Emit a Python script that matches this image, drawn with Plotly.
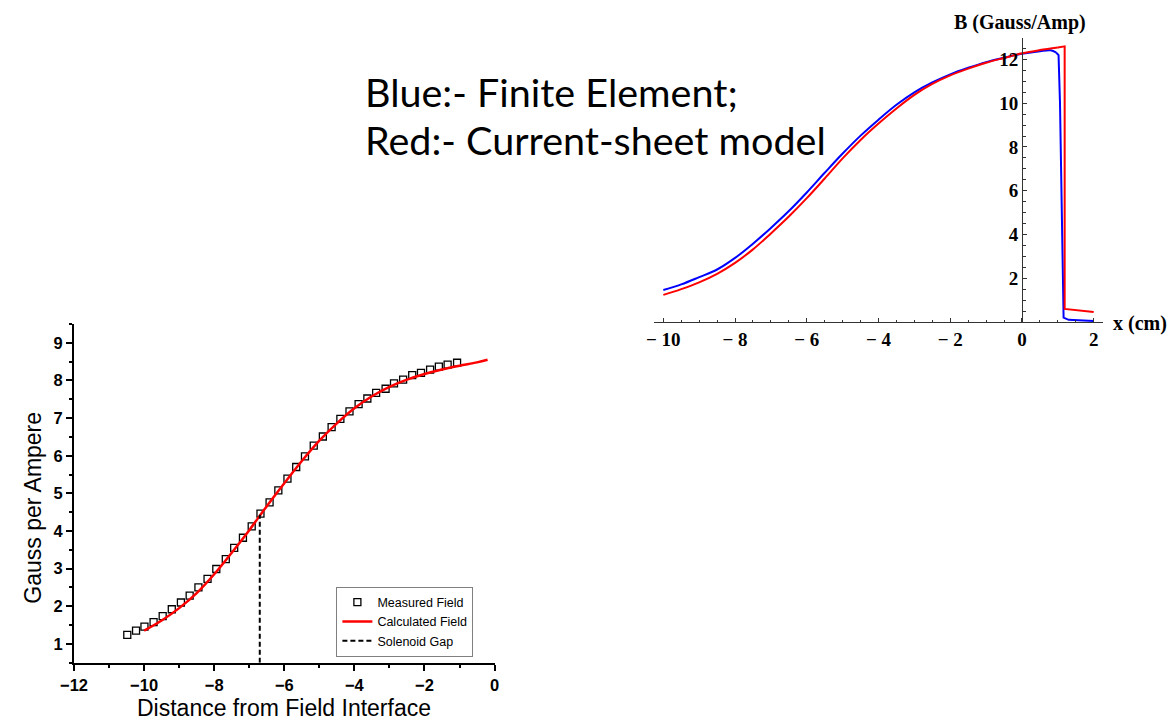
import plotly.graph_objects as go

# ---- Measured / calculated field along the solenoid axis (left panel) ----
meas_x = [-10.48, -10.23, -9.99, -9.73, -9.47, -9.21, -8.95, -8.70, -8.45, -8.19,
          -7.94, -7.67, -7.43, -7.18, -6.93, -6.68, -6.42, -6.17, -5.91, -5.66,
          -5.41, -5.16, -4.90, -4.65, -4.40, -4.14, -3.88, -3.63, -3.38, -3.11,
          -2.87, -2.61, -2.35, -2.10, -1.84, -1.59, -1.34, -1.07]
meas_b = [1.24, 1.35, 1.46, 1.58, 1.74, 1.92, 2.10, 2.28, 2.50, 2.73,
          2.99, 3.25, 3.55, 3.82, 4.12, 4.46, 4.76, 5.08, 5.39, 5.70,
          5.98, 6.27, 6.51, 6.76, 6.98, 7.18, 7.37, 7.52, 7.67, 7.78,
          7.92, 8.02, 8.14, 8.20, 8.29, 8.37, 8.42, 8.47]

calc_x = [-10, -9.5, -9, -8.5, -8, -7.5, -7, -6.5, -6, -5.5, -5,
          -4.5, -4, -3.5, -3, -2.5, -2, -1.5, -1, -0.5, -0.2]
calc_b = [1.35, 1.62, 1.95, 2.35, 2.85, 3.42, 4.02, 4.66, 5.27, 5.86, 6.40,
          6.86, 7.26, 7.58, 7.83, 8.02, 8.17, 8.29, 8.39, 8.48, 8.55]

gap_x = -6.7
gap_b = 4.43

left_xticks = [-12, -10, -8, -6, -4, -2, 0]
left_yticks = [1, 2, 3, 4, 5, 6, 7, 8, 9]

# ---- Finite element vs current-sheet model (right panel) ----
# smooth field inside the solenoid, then the sharp fall-off at the iron face
fe_x = [-10, -9.5, -9, -8.5, -8, -7.5, -7, -6.5, -6, -5.5, -5,
        -4.5, -4, -3.5, -3, -2.5, -2, -1.5, -1, -0.5, 0,
        0.5, 0.8, 0.95, 1.02, 1.06, 1.1, 1.13, 1.16, 1.3, 1.6, 2.0]
fe_b = [1.46, 1.72, 2.05, 2.40, 2.93, 3.58, 4.30, 5.07, 5.92, 6.82, 7.70,
        8.52, 9.25, 9.93, 10.50, 10.95, 11.32, 11.62, 11.88, 12.08, 12.26,
        12.38, 12.42, 12.32, 12.20, 10.0, 6.0, 3.5, 0.20, 0.10, 0.07, 0.05]
fe_edge = 23          # index where the fall-off begins

cs_x = [-10, -9.5, -9, -8.5, -8, -7.5, -7, -6.5, -6, -5.5, -5,
        -4.5, -4, -3.5, -3, -2.5, -2, -1.5, -1, -0.5, 0,
        0.5, 1.0, 1.19, 1.19, 1.5, 2.0]
cs_b = [1.24, 1.50, 1.81, 2.20, 2.70, 3.32, 4.05, 4.82, 5.66, 6.56, 7.48,
        8.32, 9.07, 9.76, 10.38, 10.88, 11.27, 11.58, 11.85, 12.07, 12.28,
        12.43, 12.55, 12.60, 0.60, 0.55, 0.46]
cs_edge = 22

right_xticks = [-10, -8, -6, -4, -2, 0, 2]
right_xlabels = ["\u2212 10", "\u2212 8", "\u2212 6", "\u2212 4", "\u2212 2", "0", "2"]
right_yticks = [2, 4, 6, 8, 10, 12]

W, H = 1173, 723


def px(x):
    return x / W


def py(y):
    return 1 - y / H


sans = "Liberation Sans, Arial, sans-serif"
serif = "Liberation Serif, Times New Roman, serif"

fig = go.Figure()

fig.add_trace(go.Scatter(
    x=meas_x, y=meas_b, mode="markers", name="Measured Field",
    marker=dict(symbol="square-open", size=7, color="black", line=dict(width=1.3, color="black")),
    xaxis="x", yaxis="y"))
fig.add_trace(go.Scatter(
    x=calc_x, y=calc_b, mode="lines", name="Calculated Field", line_shape="spline",
    line=dict(color="#ff0000", width=2.5), xaxis="x", yaxis="y"))
fig.add_trace(go.Scatter(
    x=[gap_x, gap_x], y=[0.5, gap_b], mode="lines", name="Solenoid Gap",
    line=dict(color="black", width=2, dash="5px,3px"), xaxis="x", yaxis="y"))


def add_field(xs, bs, edge, color, name):
    # smooth interior part drawn as a spline, the edge step drawn straight
    fig.add_trace(go.Scatter(
        x=xs[:edge + 1], y=bs[:edge + 1], mode="lines", name=name, showlegend=False,
        line_shape="spline", line=dict(color=color, width=2), xaxis="x2", yaxis="y2"))
    fig.add_trace(go.Scatter(
        x=xs[edge:], y=bs[edge:], mode="lines", name=name, showlegend=False,
        line=dict(color=color, width=2), xaxis="x2", yaxis="y2"))


add_field(fe_x, fe_b, fe_edge, "#0000ff", "Finite Element")
add_field(cs_x, cs_b, cs_edge, "#ff0000", "Current-sheet model")

left_tickfont = dict(family=sans, size=16.5, color="black", weight="bold")
right_tickfont = dict(family=serif, size=19, color="black", weight="bold")

fig.update_layout(
    width=W, height=H,
    margin=dict(l=0, r=0, t=0, b=0),
    paper_bgcolor="white", plot_bgcolor="rgba(0,0,0,0)",
    xaxis=dict(
        domain=[px(61), px(488.5)], anchor="y", range=[-12, 0],
        tickvals=left_xticks, ticks="outside", ticklen=6, tickwidth=2, tickcolor="black",
        minor=dict(dtick=1, tick0=0, ticks="outside", ticklen=3, tickwidth=2, tickcolor="black"),
        showline=True, linecolor="black", linewidth=2, showgrid=False, zeroline=False,
        tickfont=left_tickfont),
    yaxis=dict(
        domain=[py(662.7), py(324)], anchor="x", range=[0.5, 9.5],
        tickvals=left_yticks, ticks="outside", ticklen=6, tickwidth=2, tickcolor="black",
        minor=dict(dtick=0.5, tick0=0, ticks="outside", ticklen=3, tickwidth=2, tickcolor="black"),
        showline=True, linecolor="black", linewidth=2, showgrid=False, zeroline=False,
        tickfont=left_tickfont),
    xaxis2=dict(
        domain=[px(650.9), px(1106.6)], anchor="y2", range=[-10.25, 2.25],
        tickvals=right_xticks, ticktext=right_xlabels,
        ticks="inside", ticklen=4, tickwidth=1, tickcolor="#333",
        minor=dict(dtick=0.5, tick0=0, ticks="inside", ticklen=2.5, tickwidth=1, tickcolor="#333"),
        showline=True, linecolor="#333", linewidth=1, showgrid=False, zeroline=False,
        tickfont=right_tickfont),
    yaxis2=dict(
        domain=[py(322), py(37.6)], anchor="free", position=px(1024.6), range=[0, 13],
        tickvals=right_yticks, ticks="inside", ticklen=4, tickwidth=1, tickcolor="#333",
        minor=dict(dtick=0.5, tick0=0, ticks="inside", ticklen=2.5, tickwidth=1, tickcolor="#333"),
        showline=True, linecolor="#333", linewidth=1, showgrid=False, zeroline=False,
        tickfont=right_tickfont),
    legend=dict(
        x=px(327.7), y=py(621.5), xanchor="left", yanchor="middle",
        bgcolor="white", bordercolor="#808080", borderwidth=1,
        font=dict(family=sans, size=12.5, color="black"),
        tracegroupgap=0, itemwidth=30),
    showlegend=True,
)

annotations = [
    dict(text="Gauss per Ampere", x=px(19), y=py(508), textangle=-90,
         font=dict(family=sans, size=23, color="black")),
    dict(text="Distance from Field Interface", x=px(274.5), y=0, yanchor="bottom",
         font=dict(family=sans, size=23, color="black")),
    dict(text="B (Gauss/Amp)", x=px(1023), y=py(22),
         font=dict(family=serif, size=20, color="black", weight="bold")),
    dict(text="x (cm)", x=px(1115), y=py(323), xanchor="left",
         font=dict(family=serif, size=20, color="black", weight="bold")),
    dict(text="Blue:- Finite Element;", x=px(355), y=py(91), xanchor="left",
         font=dict(family="Lato, sans-serif", size=39.5, color="black")),
    dict(text="Red:- Current-sheet model", x=px(355), y=py(139), xanchor="left",
         font=dict(family="Lato, sans-serif", size=39.5, color="black")),
]
for a in annotations:
    a.setdefault("xanchor", "center")
    a.setdefault("yanchor", "middle")
    fig.add_annotation(xref="paper", yref="paper", showarrow=False, **a)

fig.write_html(
    "out.html",
    post_script="document.body.style.margin='0';document.body.style.overflow='hidden';",
)
